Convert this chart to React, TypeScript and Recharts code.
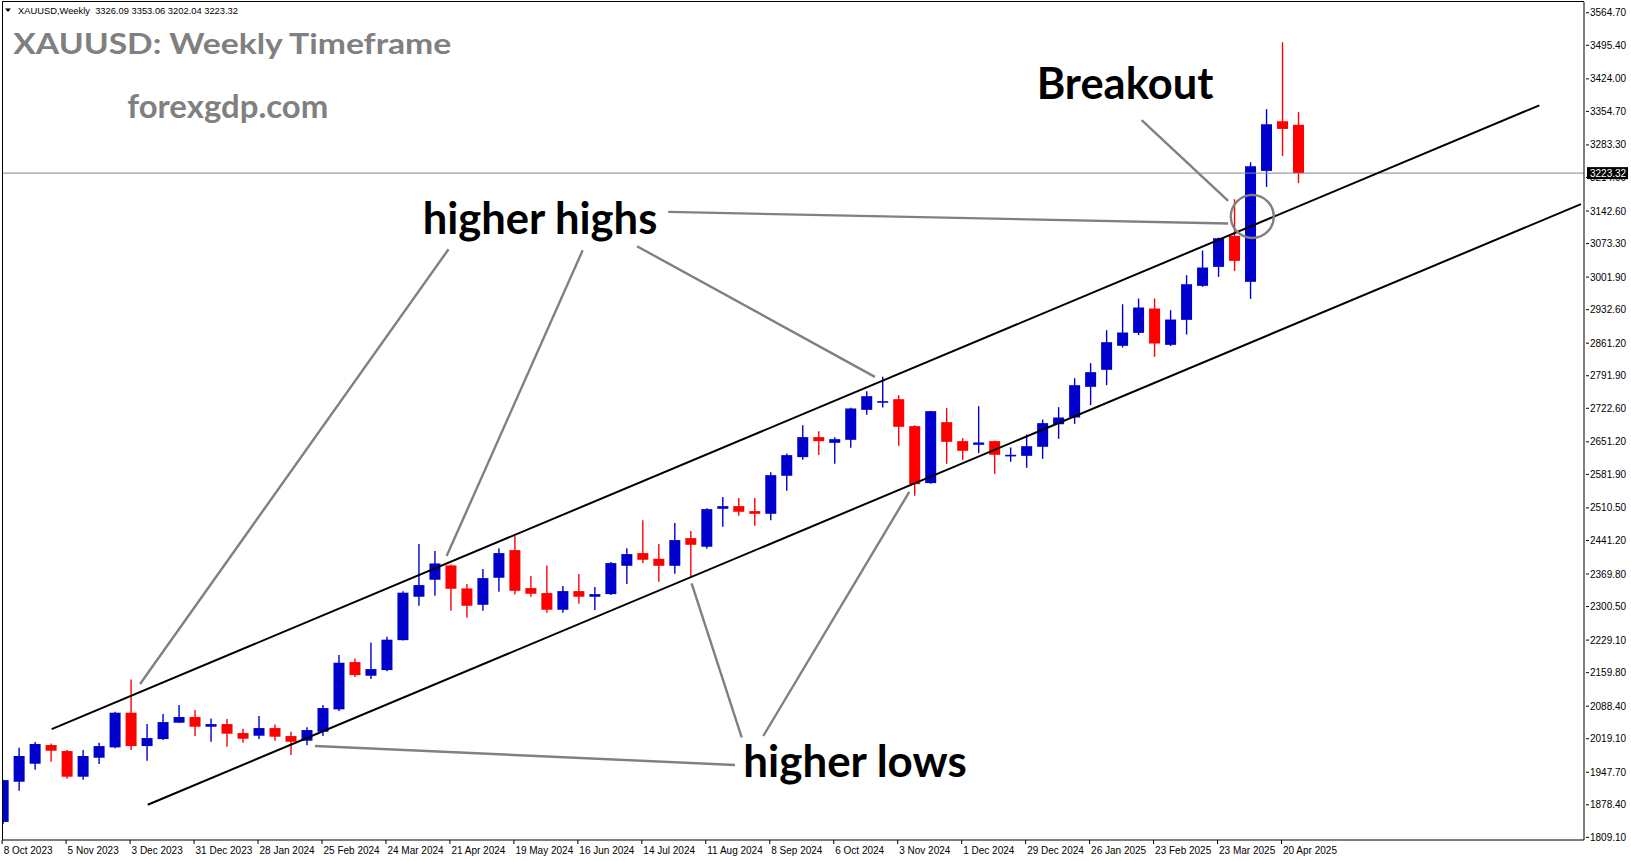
import React from 'react';
import { ComposedChart, Bar, XAxis, YAxis, ReferenceLine, ReferenceDot } from 'recharts';

// ---- OHLC data, weekly bars from 8 Oct 2023 (index 0) to 27 Apr 2025 (index 81)
const opens = [
  1842, 1927.6, 1965.9, 2005.7, 1992.9, 1938.2, 1978.7, 2000.7, 2074.5, 2003.5,
  2018.4, 2053.2, 2065.3, 2044.7, 2050.3, 2031.2, 2025.5, 2041.8, 2024.8, 2014.9,
  2034, 2081.6, 2182.3, 2153.2, 2165.3, 2229, 2321.4, 2357.6, 2388.1, 2339.1,
  2304.3, 2361.8, 2420.7, 2339.8, 2329.2, 2293.7, 2333.4, 2321.4, 2327, 2387.3,
  2414.3, 2402.2, 2387.3, 2446.2, 2427.8, 2508.7, 2514.3, 2503.7, 2498, 2578.9,
  2618.6, 2661.2, 2649.1, 2655.5, 2719.3, 2735, 2742, 2684.6, 2563.3, 2693.1,
  2652.7, 2644.9, 2652.7, 2621.4, 2621.4, 2640.6, 2688.6, 2703, 2768.3, 2804.5,
  2855.6, 2883.2, 2935, 2857.7, 2910.9, 2983.3, 3023.7, 3089.7, 2991.8, 3228,
  3333.7, 3326.09,
];
const highs = [
  1932, 2000, 2012, 2009.2, 1995, 1995, 2010.6, 2076.6, 2145.4, 2050.3,
  2071.6, 2090.8, 2080.1, 2062.4, 2061, 2040.4, 2067.3, 2049.6, 2034, 2043.3,
  2090.8, 2197.2, 2190.1, 2224.2, 2236, 2333, 2433.5, 2418.6, 2390.2, 2348.3,
  2380.3, 2424.9, 2451.9, 2365.4, 2388.1, 2344.1, 2369.6, 2341.9, 2395.2, 2424.9,
  2484.5, 2433.5, 2478.2, 2461.1, 2510, 2533.5, 2531.4, 2531.4, 2586.7, 2626.4,
  2686.7, 2673.9, 2661.2, 2724, 2759.1, 2789.6, 2750.6, 2686.7, 2717, 2722.9,
  2659, 2727.1, 2653.5, 2639.2, 2666.8, 2698.8, 2725, 2786.7, 2818.7, 2888.9,
  2944.2, 2956.3, 2956.3, 2931.5, 3006, 3058.5, 3086, 3167.7, 3246.5, 3359.3,
  3501.9, 3353.06,
];
const lows = [
  1838, 1908.5, 1953.1, 1970.2, 1934, 1931.9, 1965.2, 1998.6, 1995, 1972.3,
  2016.3, 2053.2, 2024.8, 2012.7, 2002.1, 2010.6, 2018.4, 2014.9, 1984.4, 2005,
  2024.8, 2078, 2150.4, 2146.1, 2163, 2228, 2302.2, 2323.5, 2291.6, 2277.4,
  2291.6, 2332, 2326.3, 2321.4, 2287.3, 2287.3, 2306.5, 2293, 2324.9, 2348.3,
  2393, 2353.3, 2370.3, 2362.5, 2423.5, 2470.3, 2493.8, 2472.5, 2484.5, 2547,
  2612.9, 2622.9, 2604.4, 2638.5, 2708.7, 2724.3, 2642.7, 2536.3, 2562, 2604.4,
  2612.9, 2627.1, 2583.1, 2608.7, 2595.9, 2615.1, 2657.6, 2689.5, 2729.3, 2771.8,
  2852, 2878.3, 2832.2, 2855, 2879.7, 2981.1, 3002.4, 3015.2, 2955.6, 3194,
  3259.9, 3202.04,
];
const closes = [
  1931, 1982.3, 2007.8, 1993.6, 1938.2, 1982.3, 2003.5, 2074.5, 2003.5, 2020.6,
  2054.6, 2065.3, 2044.7, 2050.3, 2029.8, 2019.1, 2041.8, 2023.4, 2012.7, 2037.6,
  2084.4, 2180.9, 2154.6, 2167.4, 2230, 2330, 2346.2, 2392.3, 2338.4, 2302.2,
  2361.1, 2414.3, 2334.1, 2327.8, 2293.7, 2333.4, 2321.4, 2327, 2393, 2412.2,
  2400.1, 2387.3, 2442, 2432, 2507.9, 2514.3, 2502.3, 2498, 2580.3, 2622.9,
  2661.2, 2652.7, 2656.9, 2722.2, 2748.4, 2737.8, 2683.2, 2561.1, 2716.5, 2651.2,
  2632.1, 2649.8, 2623.6, 2623.6, 2642, 2691, 2703, 2771.8, 2799.5, 2863.4,
  2883.9, 2937.2, 2860.5, 2911.6, 2986.8, 3022.3, 3084.7, 3036.5, 3237.9, 3327.3,
  3317.4, 3223.32,
];

const xTickIndex = [0, 4, 8, 12, 16, 20, 24, 28, 32, 36, 40, 44, 48, 52, 56, 60, 64, 68, 72, 76, 80];
const xTickLabels = [
  '8 Oct 2023', '5 Nov 2023', '3 Dec 2023', '31 Dec 2023', '28 Jan 2024', '25 Feb 2024',
  '24 Mar 2024', '21 Apr 2024', '19 May 2024', '16 Jun 2024', '14 Jul 2024', '11 Aug 2024',
  '8 Sep 2024', '6 Oct 2024', '3 Nov 2024', '1 Dec 2024', '29 Dec 2024', '26 Jan 2025',
  '23 Feb 2025', '23 Mar 2025', '20 Apr 2025',
];
const lastPrice = 3223.32;
const yTickValues = [
  3564.7, 3495.4, 3424.0, 3354.7, 3283.3, 3214.0, 3142.6, 3073.3, 3001.9, 2932.6,
  2861.2, 2791.9, 2722.6, 2651.2, 2581.9, 2510.5, 2441.2, 2369.8, 2300.5, 2229.1,
  2159.8, 2088.4, 2019.1, 1947.7, 1878.4, 1809.1, lastPrice,
];

const xDomain = [-0.1025, 98.82];
const yDomain = [1803.5, 3587.6];

// channel lines (bar index, price)
const upperChannel = [{ x: 3.005, y: 2039.7 }, { x: 96.03, y: 3367.6 }];
const lowerChannel = [{ x: 9.01, y: 1878.6 }, { x: 98.63, y: 3157.3 }];

// grey pointer lines (bar index, price)
const pointerLines = [
  [{ x: 27.82, y: 3061.3 }, { x: 8.53, y: 2135.5 }],
  [{ x: 36.21, y: 3059.2 }, { x: 27.7, y: 2407.9 }],
  [{ x: 39.6, y: 3067.7 }, { x: 54.48, y: 2789.5 }],
  [{ x: 41.56, y: 3140.7 }, { x: 76.57, y: 3116.0 }],
  [{ x: 71.16, y: 3335.9 }, { x: 76.57, y: 3164.1 }],
  [{ x: 19.47, y: 2003.6 }, { x: 45.73, y: 1963.2 }],
  [{ x: 46.15, y: 2022.1 }, { x: 43.02, y: 2349.8 }],
  [{ x: 47.5, y: 2024.9 }, { x: 56.63, y: 2544.8 }],
];
const breakoutPoint = { x: 78.08, y: 3130.9 };

const data = opens.map((o, i) => ({
  idx: i,
  open: o,
  high: highs[i],
  low: lows[i],
  close: closes[i],
  range: [lows[i], highs[i]],
}));

const BLUE = '#0000cc';
const RED = '#ff0000';
const GREY = '#808080';
const AXIS_FONT = '"Liberation Sans", Arial, sans-serif';
const BIG_FONT = 'Lato, "Open Sans", sans-serif';

function Candle(props: any) {
  const { x, y, width, height, payload } = props;
  if (x == null || y == null || !payload) return null;
  const { open, close, high, low } = payload;
  const cx = x + width / 2;
  const span = high - low;
  const toY = (p: number) => y + (span === 0 ? 0 : ((high - p) / span) * height);
  const up = close >= open;
  const color = up ? BLUE : RED;
  const top = toY(Math.max(open, close));
  const bot = toY(Math.min(open, close));
  return (
    <g>
      <line x1={cx} x2={cx} y1={y} y2={y + height} stroke={color} strokeWidth={1.4} />
      <rect x={cx - 5.5} y={top} width={11} height={Math.max(bot - top, 1.6)} fill={color} />
    </g>
  );
}

function XTick(props: any) {
  const { x, y, payload } = props;
  const i = xTickIndex.indexOf(payload.value);
  const label = i >= 0 ? xTickLabels[i] : '';
  return (
    <g>
      <line x1={x - 1.5} x2={x - 1.5} y1={y} y2={y + 4} stroke="#000" strokeWidth={1} />
      <text x={x} y={y + 14} fontSize={10} fontFamily={AXIS_FONT} fill="#000" textAnchor="start">
        {label}
      </text>
    </g>
  );
}

function YTick(props: any) {
  const { x, y, payload } = props;
  const v = payload.value;
  if (v === lastPrice) {
    return (
      <g>
        <rect x={x + 3} y={y - 6} width={41} height={12} fill="#000" />
        <text x={x + 6} y={y} dy="0.35em" fontSize={10} fontFamily={AXIS_FONT} fill="#fff">
          {v.toFixed(2)}
        </text>
      </g>
    );
  }
  return (
    <g>
      <line x1={x + 2} x2={x + 5} y1={y} y2={y} stroke="#000" strokeWidth={1} />
      <text x={x + 6} y={y} dy="0.35em" fontSize={10} fontFamily={AXIS_FONT} fill="#000">
        {v.toFixed(2)}
      </text>
    </g>
  );
}

export default function App() {
  return (
    <div style={{ position: 'absolute', left: 0, top: 0, width: 1631, height: 861, background: '#fff', overflow: 'hidden' }}>
      <ComposedChart
        width={1631}
        height={861}
        data={data}
        margin={{ top: 2, right: 0, bottom: 0, left: 2 }}
      >
        <XAxis
          type="number"
          dataKey="idx"
          domain={xDomain}
          allowDataOverflow
          ticks={xTickIndex}
          interval={0}
          tick={<XTick />}
          tickLine={false}
          tickSize={0}
          tickMargin={0}
          height={21}
          axisLine={{ stroke: '#000', strokeWidth: 1 }}
        />
        <YAxis
          type="number"
          orientation="right"
          domain={yDomain}
          allowDataOverflow
          ticks={yTickValues}
          interval={0}
          tick={<YTick />}
          tickLine={false}
          tickSize={0}
          tickMargin={0}
          width={47}
          axisLine={{ stroke: '#000', strokeWidth: 1 }}
        />
        <ReferenceLine y={lastPrice} stroke="#7a8896" strokeWidth={1} />
        <Bar dataKey="range" barSize={11} isAnimationActive={false} shape={(p: any) => <Candle {...p} />} />
        <ReferenceLine segment={upperChannel} stroke="#000" strokeWidth={2} />
        <ReferenceLine segment={lowerChannel} stroke="#000" strokeWidth={2} />
        {pointerLines.map((seg, k) => (
          <ReferenceLine key={k} segment={seg} stroke={GREY} strokeWidth={2.4} />
        ))}
        <ReferenceDot
          x={breakoutPoint.x}
          y={breakoutPoint.y}
          r={21.5}
          fill="none"
          stroke={GREY}
          strokeWidth={2.4}
        />
      </ComposedChart>
      <svg
        width={1631}
        height={861}
        style={{ position: 'absolute', left: 0, top: 0, pointerEvents: 'none' }}
      >
        <path d="M2.5 840 V1.5 H1584" stroke="#000" strokeWidth={1} fill="none" />
        <polygon points="5,8.5 11,8.5 8,12" fill="#000" />
        <text x={18} y={14} fontSize={9.4} fontFamily={AXIS_FONT} fill="#000" style={{ whiteSpace: 'pre' }} textLength={220} lengthAdjust="spacingAndGlyphs">
          {'XAUUSD,Weekly  3326.09 3353.06 3202.04 3223.32'}
        </text>
        <text x={13.3} y={54.3} fontSize={29} fontWeight={700} fontFamily={BIG_FONT} fill={GREY} textLength={438} lengthAdjust="spacingAndGlyphs">
          XAUUSD: Weekly Timeframe
        </text>
        <text x={127.3} y={118.3} fontSize={32} fontWeight={700} fontFamily={BIG_FONT} fill={GREY} textLength={201} lengthAdjust="spacingAndGlyphs">
          forexgdp.com
        </text>
        <text x={1036.7} y={99.3} fontSize={43} fontWeight={700} fontFamily={BIG_FONT} fill="#000" textLength={176.6} lengthAdjust="spacingAndGlyphs">
          Breakout
        </text>
        <text x={422.7} y={234.3} fontSize={43} fontWeight={700} fontFamily={BIG_FONT} fill="#000" textLength={234.6} lengthAdjust="spacingAndGlyphs">
          higher highs
        </text>
        <text x={743.3} y={777.3} fontSize={43} fontWeight={700} fontFamily={BIG_FONT} fill="#000" textLength={223.4} lengthAdjust="spacingAndGlyphs">
          higher lows
        </text>
      </svg>
    </div>
  );
}
